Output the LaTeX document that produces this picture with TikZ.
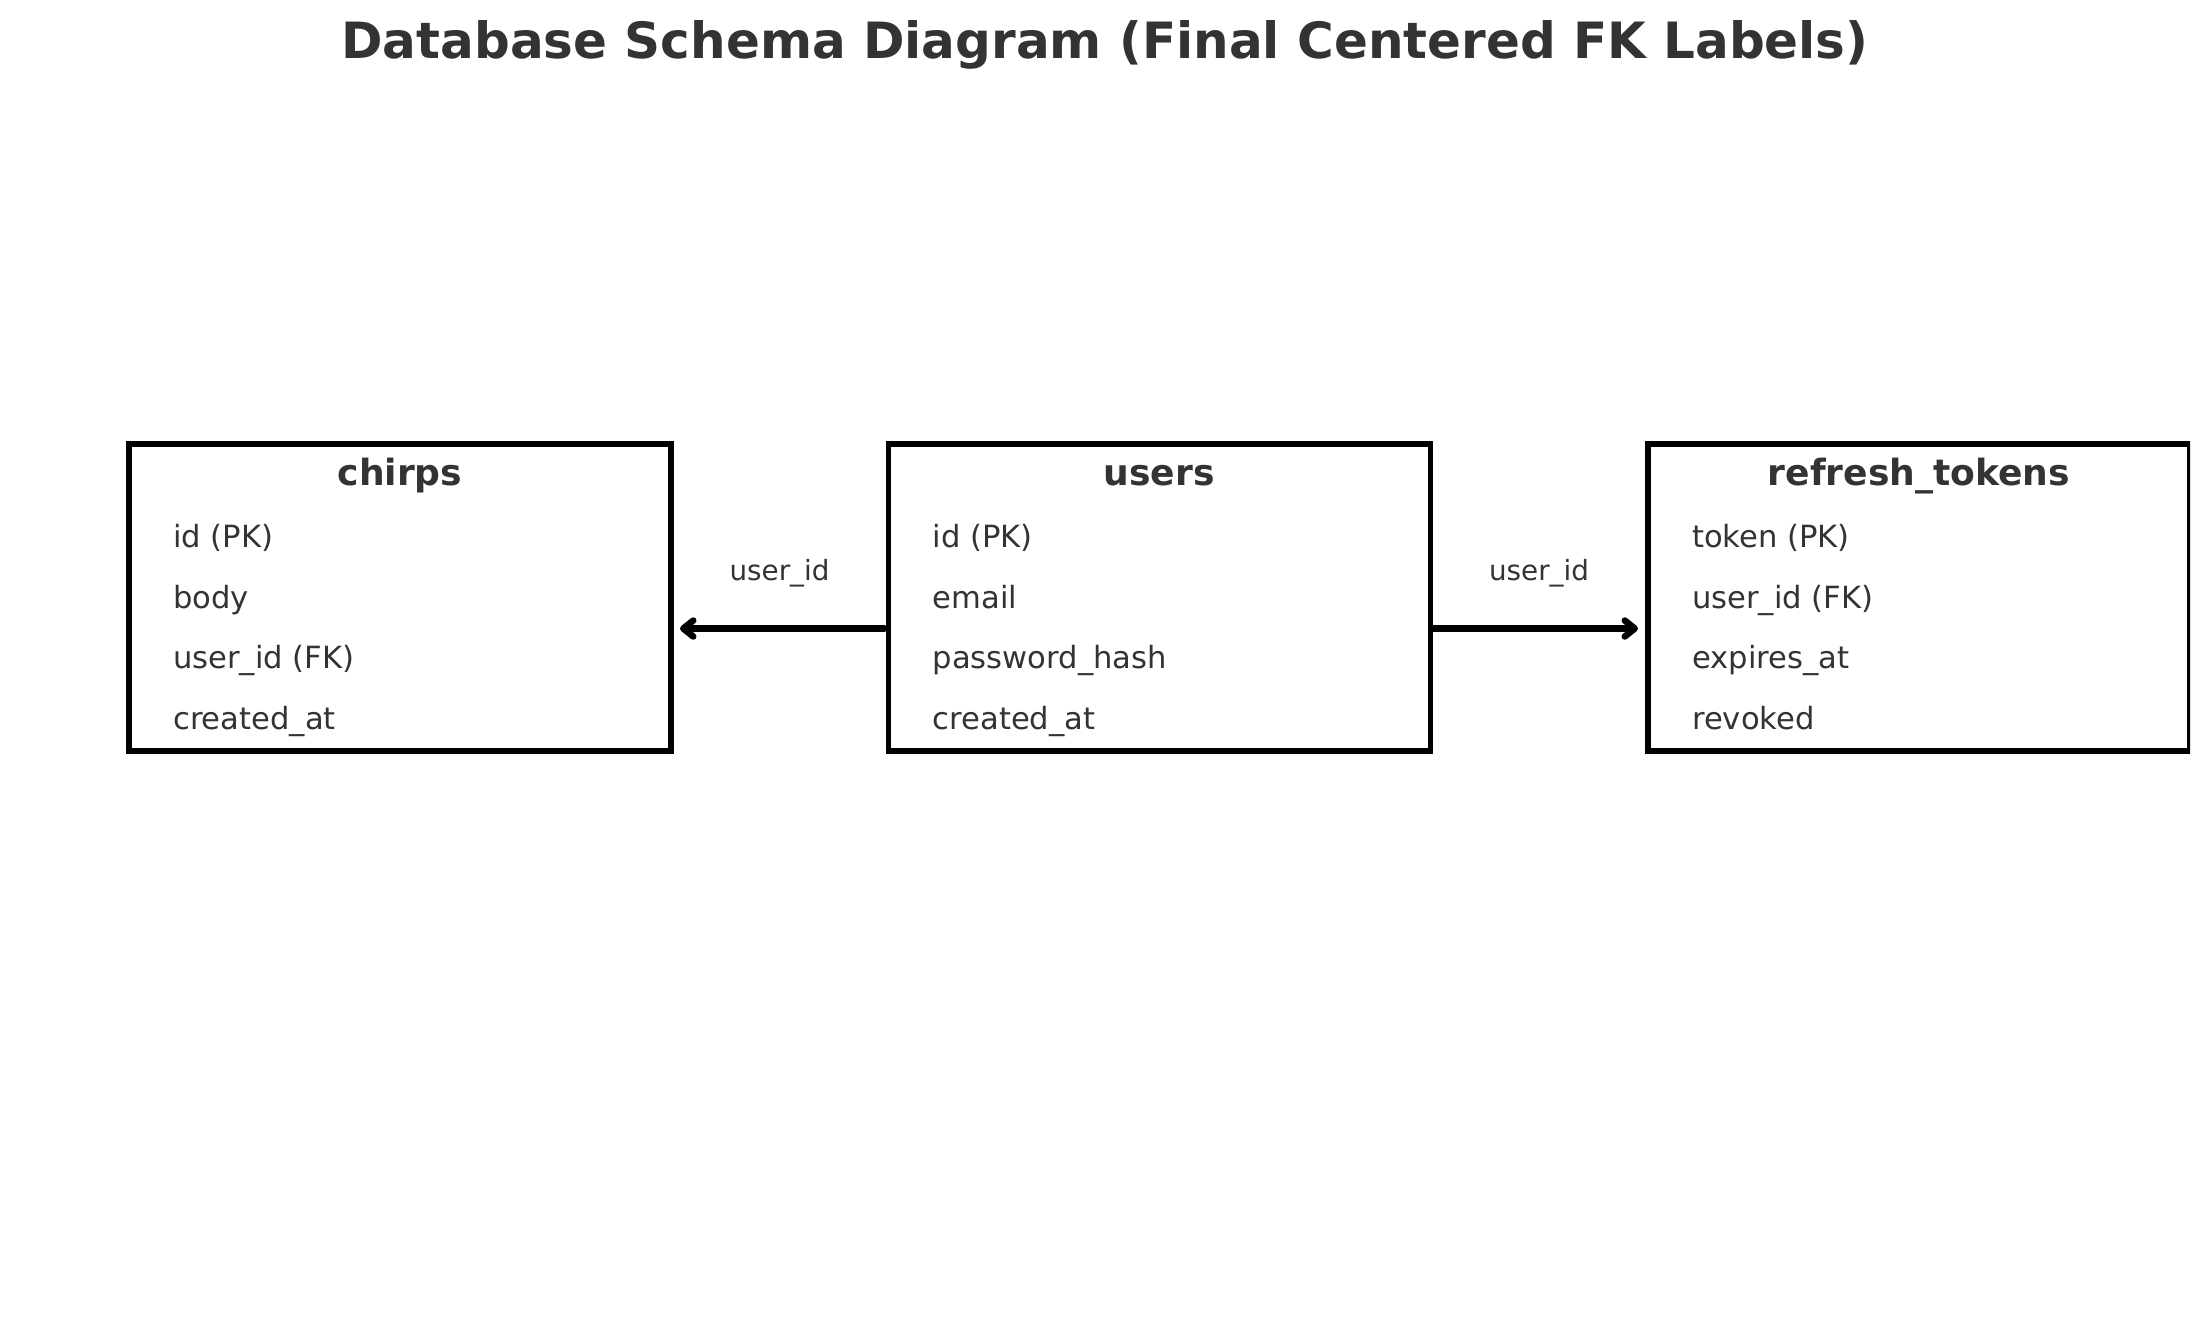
\documentclass[tikz,border=0pt]{standalone}
\usepackage{fontspec}
\setmainfont{DejaVu Sans}
\usetikzlibrary{arrows.meta}
\definecolor{txt}{HTML}{333333}
\begin{document}
\begin{tikzpicture}[x=1pt,y=-1pt,
  tbox/.style={draw=black, line width=5.5pt, rectangle, minimum width=542pt, minimum height=307pt, inner sep=0pt, outer sep=0pt},
  hdr/.style={anchor=base, text=txt, font=\fontsize{36.1}{40}\selectfont\bfseries, inner sep=0pt},
  row/.style={anchor=base west, text=txt, font=\fontsize{30.6}{36}\selectfont, inner sep=0pt},
  lbl/.style={anchor=base, text=txt, font=\fontsize{27.8}{32}\selectfont, inner sep=0pt},
  ttl/.style={anchor=base, text=txt, font=\fontsize{50}{56}\selectfont\bfseries, inner sep=0pt},
  fk/.style={draw=black, line width=6.5pt, line cap=round, line join=round, -{Straight Barb[length=10pt, width=16pt, line join=round, line cap=round]}}
]
\useasboundingbox (0,0) rectangle (2210,1326);
\fill[white] (0,0) rectangle (2210,1326);

\node[ttl] (title) at (1105,58) {Database Schema Diagram (Final Centered FK Labels)};

% boxes
\node[tbox] (chirps) at (400,597.5) {};
\node[tbox] (users) at (1159.25,597.5) {};
\begin{scope}
\clip (0,0) rectangle (2190,1326);
\node[tbox] (tokens) at (1919,597.5) {};
\end{scope}

% headers
\node[hdr] (chirpsh) at (400,485) {chirps};
\node[hdr] (usersh) at (1159.25,485) {users};
\node[hdr] (tokensh) at (1919,485) {refresh\_tokens};

% chirps rows
\node[row] (c1) at (173,547) {id (PK)};
\node[row] (c2) at (173,608) {body};
\node[row] (c3) at (173,668) {user\_id (FK)};
\node[row] (c4) at (173,729) {created\_at};

% users rows
\node[row] (u1) at (932.5,547) {id (PK)};
\node[row] (u2) at (932.5,608) {email};
\node[row] (u3) at (932.5,668) {password\_hash};
\node[row] (u4) at (932.5,729) {created\_at};

% refresh_tokens rows
\node[row] (t1) at (1692,547) {token (PK)};
\node[row] (t2) at (1692,608) {user\_id (FK)};
\node[row] (t3) at (1692,668) {expires\_at};
\node[row] (t4) at (1692,729) {revoked};

% connectors
\coordinate (ay) at (0,628.5);
\draw[fk] ([xshift=-4pt]users.west |- ay) -- ([xshift=9pt]chirps.east |- ay);
\draw[fk] ([xshift=3pt]users.east |- ay) -- ([xshift=-10pt]tokens.west |- ay);

% labels
\node[lbl] (l1) at (779.5,580) {user\_id};
\node[lbl] (l2) at (1539,580) {user\_id};
\end{tikzpicture}
\end{document}
